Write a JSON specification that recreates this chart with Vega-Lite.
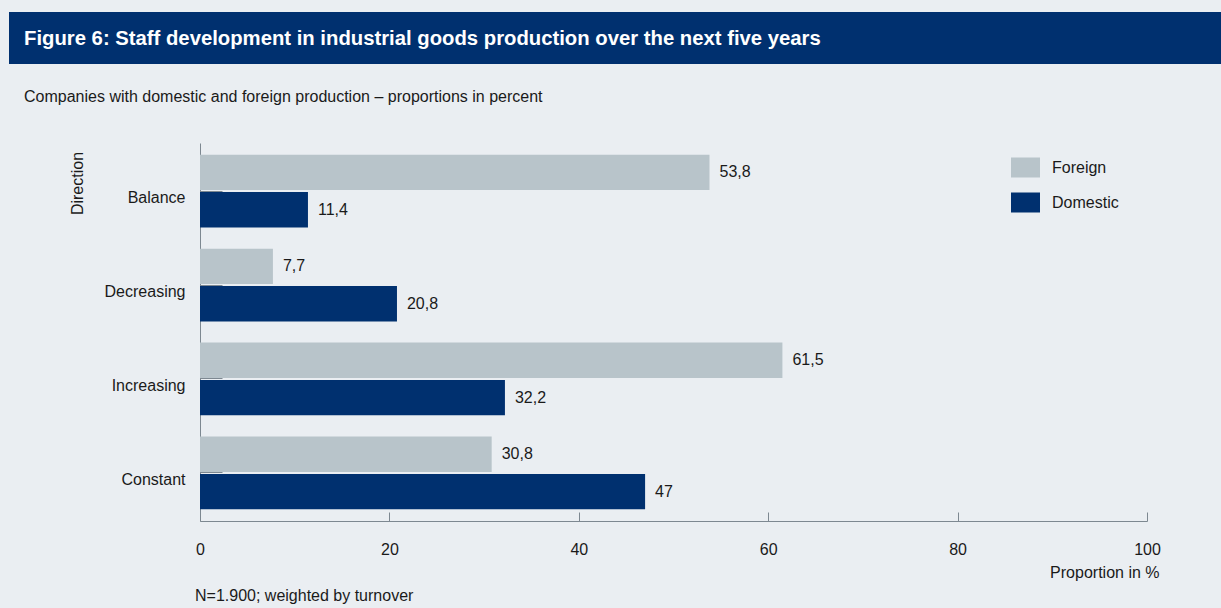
{
  "$schema": "https://vega.github.io/schema/vega-lite/v6.json",
  "background": "#eaeef2",
  "padding": {"left": 9, "top": 12, "right": 0, "bottom": 8},
  "bounds": "flush",
  "spacing": 79,
  "config": {
    "view": {"stroke": null},
    "font": "Liberation Sans",
    "locale": {"number": {"decimal": ",", "thousands": ".", "grouping": [3], "currency": ["", " €"]}}
  },
  "vconcat": [
    {
      "width": 1212,
      "height": 52,
      "view": {"fill": "#00306f", "stroke": null},
      "title": {
        "text": "Figure 6: Staff development in industrial goods production over the next five years",
        "subtitle": "Companies with domestic and foreign production – proportions in percent",
        "orient": "bottom",
        "anchor": "start",
        "frame": "group",
        "dx": 15,
        "offset": -35,
        "font": "Liberation Sans",
        "fontSize": 20.3,
        "fontWeight": "bold",
        "color": "#ffffff",
        "subtitleFont": "Liberation Sans",
        "subtitleFontSize": 16,
        "subtitleColor": "#1a1a1a",
        "subtitlePadding": 40
      },
      "data": {"values": []},
      "mark": {"type": "point", "opacity": 0},
      "encoding": {}
    },
    {
      "bounds": "flush",
      "spacing": 0,
      "hconcat": [
        {
          "width": 191,
          "height": 10,
          "data": {"values": []},
          "mark": {"type": "point", "opacity": 0},
          "encoding": {}
        },
        {
          "width": 947,
          "height": 378,
          "title": {
            "text": "N=1.900; weighted by turnover",
            "orient": "bottom",
            "anchor": "start",
            "frame": "group",
            "dx": -5,
            "offset": 8,
            "font": "Liberation Sans",
            "fontSize": 16,
            "fontWeight": "normal",
            "color": "#1a1a1a"
          },
          "data": {
            "values": [
              {"direction": "Balance", "origin": "Foreign", "value": 53.8},
              {"direction": "Balance", "origin": "Domestic", "value": 11.4},
              {"direction": "Decreasing", "origin": "Foreign", "value": 7.7},
              {"direction": "Decreasing", "origin": "Domestic", "value": 20.8},
              {"direction": "Increasing", "origin": "Foreign", "value": 61.5},
              {"direction": "Increasing", "origin": "Domestic", "value": 32.2},
              {"direction": "Constant", "origin": "Foreign", "value": 30.8},
              {"direction": "Constant", "origin": "Domestic", "value": 47}
            ]
          },
          "encoding": {
            "y": {
              "field": "direction",
              "type": "nominal",
              "sort": ["Balance", "Decreasing", "Increasing", "Constant"],
              "scale": {"paddingInner": 0.226, "paddingOuter": 0.125},
              "axis": {
                "title": "Direction",
                "titleX": -123,
                "titleY": 40,
                "titleAngle": -90,
                "titleAlign": "center",
                "titleBaseline": "middle",
                "titleFont": "Liberation Sans",
                "titleFontSize": 16,
                "titleFontWeight": "normal",
                "titleColor": "#1a1a1a",
                "labelFont": "Liberation Sans",
                "labelFontSize": 16,
                "labelColor": "#1a1a1a",
                "labelPadding": 37,
                "labelOffset": 7,
                "domainColor": "#7d8891",
                "ticks": true,
                "tickSize": -22,
                "tickColor": "#7d8891",
                "grid": false
              }
            },
            "yOffset": {
              "field": "origin",
              "type": "nominal",
              "sort": ["Foreign", "Domestic"],
              "scale": {"paddingInner": 0.055, "paddingOuter": 0}
            },
            "x": {
              "field": "value",
              "type": "quantitative",
              "scale": {"domain": [0, 100], "nice": false},
              "axis": {
                "values": [0, 20, 40, 60, 80, 100],
                "title": "Proportion in %",
                "titleX": 959,
                "titleY": 51,
                "titleAlign": "right",
                "titleBaseline": "middle",
                "titleFont": "Liberation Sans",
                "titleFontSize": 16,
                "titleFontWeight": "normal",
                "titleColor": "#1a1a1a",
                "labelFont": "Liberation Sans",
                "labelFontSize": 16,
                "labelColor": "#1a1a1a",
                "labelPadding": 29,
                "labelFlush": false,
                "domainColor": "#7d8891",
                "tickSize": -9,
                "tickColor": "#7d8891",
                "grid": false
              }
            }
          },
          "layer": [
            {
              "mark": {"type": "bar"},
              "encoding": {
                "color": {
                  "field": "origin",
                  "type": "nominal",
                  "sort": ["Foreign", "Domestic"],
                  "scale": {"domain": ["Foreign", "Domestic"], "range": ["#b8c4ca", "#00306f"]},
                  "legend": {
                    "title": null,
                    "orient": "none",
                    "legendX": 1002,
                    "legendY": 141,
                    "padding": 0,
                    "symbolType": "M-1,-0.69H1V0.69H-1Z",
                    "symbolSize": 841,
                    "symbolStrokeWidth": 0,
                    "symbolOpacity": 1,
                    "rowPadding": 10,
                    "labelOffset": 12,
                    "labelFont": "Liberation Sans",
                    "labelFontSize": 16,
                    "labelColor": "#1a1a1a"
                  }
                }
              }
            },
            {
              "mark": {"type": "text", "align": "left", "baseline": "middle", "dx": 10, "fontSize": 16, "font": "Liberation Sans", "color": "#1a1a1a"},
              "encoding": {
                "text": {"field": "value", "type": "quantitative", "format": ".1~f"}
              }
            }
          ]
        }
      ]
    }
  ]
}
